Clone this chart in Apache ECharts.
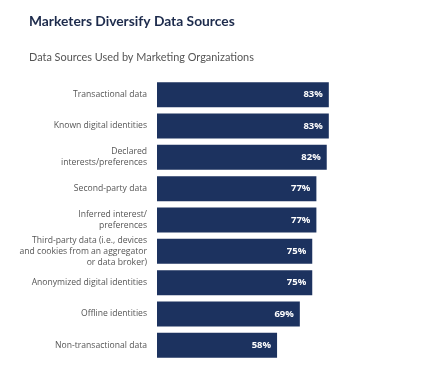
<!DOCTYPE html>
<html><head><meta charset="utf-8">
<script src="https://cdn.jsdelivr.net/npm/echarts@6/dist/echarts.min.js"></script>
<style>html,body{margin:0;padding:0;background:#fff}#c{width:440px;height:383px}</style>
</head><body><div id="c"></div>
<script>
const categories = [
  "Transactional data",
  "Known digital identities",
  "Declared\ninterests/preferences",
  "Second-party data",
  "Inferred interest/\npreferences",
  "Third-party data (i.e., devices\nand cookies from an aggregator\nor data broker)",
  "Anonymized digital identities",
  "Offline identities",
  "Non-transactional data"
];
const values = [83, 83, 82, 77, 77, 75, 75, 69, 58];
const titleText = "Marketers Diversify Data Sources";
const subtitleText = "Data Sources Used by Marketing Organizations";

const chart = echarts.init(document.getElementById('c'), null, {renderer: 'canvas'});
chart.setOption({
  backgroundColor: '#fff',
  animation: false,
  title: [
    {text: titleText, left: 24, top: 10,
     textStyle: {fontFamily: 'Lato', fontWeight: 'bold', fontSize: 13.8, color: '#1d2b4c'}},
    {text: subtitleText, left: 24, top: 47,
     textStyle: {fontFamily: 'Lato', fontWeight: 'normal', fontSize: 10.9, color: '#555'}}
  ],
  grid: {left: 157, top: 79, width: 207, height: 282, containLabel: false},
  xAxis: {type: 'value', min: 0, max: 100, show: false},
  yAxis: {
    type: 'category', data: categories, inverse: true,
    axisLine: {show: false}, axisTick: {show: false},
    axisLabel: {margin: 10, fontFamily: 'Open Sans', fontSize: 8.6, color: '#555', lineHeight: 11, align: 'right'}
  },
  series: [{
    type: 'bar', data: values, barWidth: 25,
    itemStyle: {color: '#1c325f'},
    label: {show: true, position: 'insideRight', offset: [-1, 0], formatter: '{c}%',
      fontFamily: 'Open Sans', fontWeight: 'bold', fontSize: 9.5, color: '#fff'}
  }]
});
</script></body></html>
